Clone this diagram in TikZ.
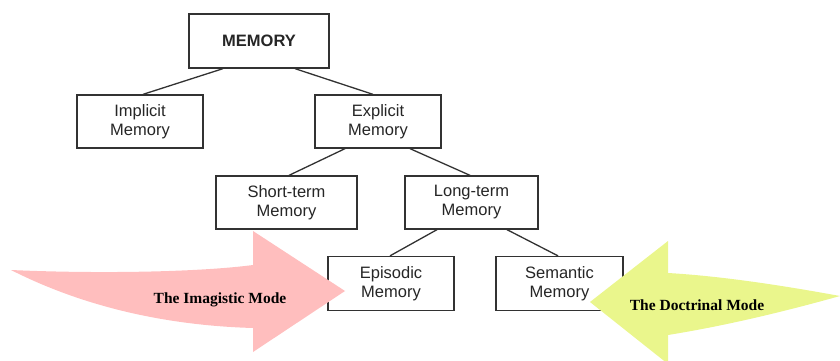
\documentclass[tikz,border=0pt]{standalone}
\usepackage{fontspec}
\setmainfont{Liberation Sans}
\newfontfamily\modefont{Liberation Serif}
\definecolor{imagpink}{RGB}{255,190,190}
\definecolor{doctyellow}{RGB}{234,246,140}
\definecolor{boxline}{RGB}{50,50,50}
\tikzset{
  membox/.style={draw=boxline, line width=1.3pt, fill=white, align=center,
    minimum height=53pt, text=black!85, font=\fontsize{16.5}{19}\selectfont},
  link/.style={draw=boxline, line width=1.3pt},
  modetext/.style={font=\modefont\bfseries\fontsize{15.5}{17}\selectfont, text=black}
}
\begin{document}
\begin{tikzpicture}[x=1pt, y=-1pt]
            \useasboundingbox (0,0) rectangle (840,361);
            \clip (0,0) rectangle (840,361);
            % tree of boxes
            \node [membox, minimum width=140pt, minimum height=54pt] (mem) at (259,41) {\textbf{MEMORY}};
            \node [membox, minimum width=126pt] (imp) at (140,121.5) {Implicit\\Memory};
            \node [membox, minimum width=126pt] (exp) at (378,121.5) {Explicit\\Memory};
            \node [membox, minimum width=141pt] (st) at (286.5,202.5) {Short-term\\Memory};
            \node [membox, minimum width=133pt] (lt) at (471.5,202.5) {Long-term\\Memory};
            \node [membox, minimum width=126pt, minimum height=54pt] (epi) at (391,283.5) {Episodic\\Memory};
            \node [membox, minimum width=127pt, minimum height=54pt] (sem) at (559.5,283.5) {Semantic\\Memory};

            \draw [link] ([xshift=-36pt]mem.south) -- ([xshift=3pt]imp.north);
            \draw [link] ([xshift=36pt]mem.south) -- ([xshift=-5pt]exp.north);
            \draw [link] ([xshift=-33pt]exp.south) -- ([xshift=2.5pt]st.north);
            \draw [link] ([xshift=32pt]exp.south) -- ([xshift=-1.5pt]lt.north);
            \draw [link] ([xshift=-34.5pt]lt.south) -- ([xshift=-1pt]epi.north);
            \draw [link] ([xshift=35.5pt]lt.south) -- ([xshift=-1.5pt]sem.north);

            % the two modes
            \fill [imagpink] (11,270) .. controls (100,274) and (200,272) .. (253,265)
                -- (253,231) -- (345,291) -- (253,352) -- (253,328)
                .. controls (150,325) and (70,300) .. (11,270) -- cycle;
            \node [modetext] (imag) at (220,300) {The Imagistic Mode};
            \fill [doctyellow] (840,296) .. controls (780,285) and (720,276) .. (668,273)
                -- (668,241) -- (590,302) -- (668,364) -- (668,335)
                .. controls (730,325) and (790,310) .. (840,296) -- cycle;
            \node [modetext] (doct) at (697,305) {The Doctrinal Mode};
\end{tikzpicture}
\end{document}
